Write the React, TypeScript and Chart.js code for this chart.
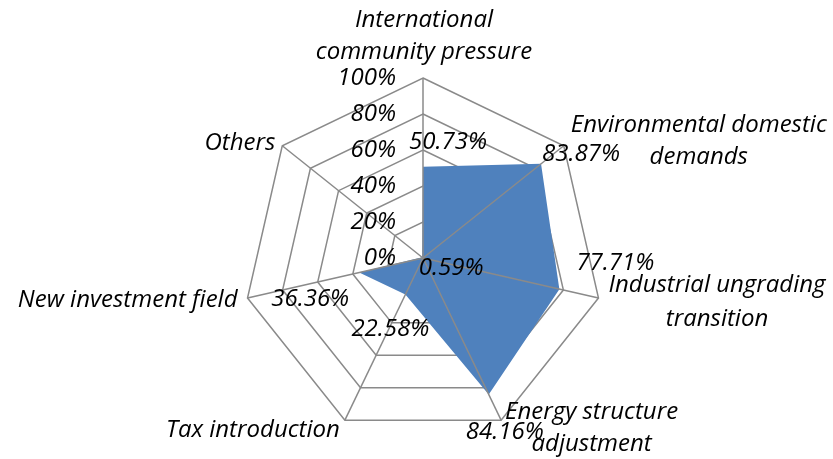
import { useEffect, useRef } from "react";
import { Chart, registerables } from "chart.js";

Chart.register(...registerables);

// Axis names (one entry per line of the label)
const categories: string[][] = [
  ["International", "community pressure"],
  ["Environmental domestic", "demands"],
  ["Industrial ungrading", "transition"],
  ["Energy structure", "adjustment"],
  ["Tax introduction"],
  ["New investment field"],
  ["Others"],
];

// Share of respondents per motivation (%)
const shares = [50.73, 83.87, 77.71, 84.16, 22.58, 36.36, 0.59];

// Radial tick values and their labels
const tickValues = [0, 20, 40, 60, 80, 100];
const tickLabels = ["0%", "20%", "40%", "60%", "80%", "100%"];

const FONT_FAMILY = "'Open Sans', Lato, sans-serif";
const NAME_FONT_SIZE = 24;
const NUMBER_FONT_SIZE = 24;
const GRID_COLOR = "#8a8a8a";
const FILL_COLOR = "#4f81bd";

// Placement of the axis names relative to the outer vertex:
// align = which edge of the block sits at dx, lineYs = line centres
const axisLabelPlacement: { align: "left" | "right" | "center"; dx: number; lineYs: number[] }[] = [
  { align: "center", dx: 1, lineYs: [-58, -26] },
  { align: "left", dx: 7, lineYs: [-21, 11] },
  { align: "left", dx: 10, lineYs: [-13, 21] },
  { align: "left", dx: 4, lineYs: [-8, 24] },
  { align: "right", dx: -5, lineYs: [10] },
  { align: "right", dx: -10, lineYs: [2] },
  { align: "right", dx: -7, lineYs: [-3] },
];

// Offset of each value label's centre from its data point
const valueLabelOffset: [number, number][] = [
  [25, -25],
  [40, -10],
  [56, -26],
  [16, 38],
  [-15, 35],
  [-49, 27],
  [29, 11],
];

const overlayPlugin = {
  id: "radarOverlay",
  afterDatasetsDraw(chart: any) {
    const scale = chart.scales.r;
    const ctx: CanvasRenderingContext2D = chart.ctx;
    const n = categories.length;
    const R = scale.drawingArea;

    ctx.save();
    // spokes drawn over the filled area
    ctx.strokeStyle = GRID_COLOR;
    ctx.lineWidth = 1.5;
    for (let i = 0; i < n; i++) {
      const p = scale.getPointPosition(i, R);
      ctx.beginPath();
      ctx.moveTo(scale.xCenter, scale.yCenter);
      ctx.lineTo(p.x, p.y);
      ctx.stroke();
    }

    ctx.fillStyle = "#000";
    ctx.textBaseline = "middle";

    // radial tick labels, right-aligned left of the top spoke
    ctx.font = `italic ${NUMBER_FONT_SIZE}px ${FONT_FAMILY}`;
    ctx.textAlign = "right";
    tickValues.forEach((v, k) => {
      const d = scale.getDistanceFromCenterForValue(v);
      ctx.fillText(tickLabels[k], scale.xCenter - 27, scale.yCenter - d);
    });

    // axis names
    ctx.font = `italic ${NAME_FONT_SIZE}px ${FONT_FAMILY}`;
    ctx.textAlign = "center";
    categories.forEach((lines, i) => {
      const v = scale.getPointPosition(i, R);
      const pl = axisLabelPlacement[i];
      const w = Math.max(...lines.map((l) => ctx.measureText(l).width));
      let cx = v.x + pl.dx;
      if (pl.align === "left") cx += w / 2;
      if (pl.align === "right") cx -= w / 2;
      lines.forEach((l, j) => ctx.fillText(l, cx, v.y + pl.lineYs[j]));
    });

    // value labels
    ctx.font = `italic ${NUMBER_FONT_SIZE}px ${FONT_FAMILY}`;
    const meta = chart.getDatasetMeta(0);
    meta.data.forEach((pt: any, i: number) => {
      const [dx, dy] = valueLabelOffset[i];
      ctx.fillText(shares[i].toFixed(2) + "%", pt.x + dx, pt.y + dy);
    });
    ctx.restore();
  },
};

export default function App() {
  const canvasRef = useRef<HTMLCanvasElement | null>(null);

  useEffect(() => {
    if (!canvasRef.current) return;
    const chart = new Chart(canvasRef.current, {
      type: "radar",
      data: {
        labels: categories.map((c) => c.join(" ")),
        datasets: [
          {
            data: shares,
            backgroundColor: FILL_COLOR,
            borderWidth: 0,
            pointRadius: 0,
            fill: true,
          },
        ],
      },
      options: {
        responsive: true,
        maintainAspectRatio: false,
        animation: false,
        layout: { padding: { top: 78, bottom: 21, left: 243, right: 230 } },
        plugins: {
          legend: { display: false },
          tooltip: { enabled: false },
        },
        scales: {
          r: {
            min: 0,
            max: 100,
            ticks: { display: false, stepSize: 20 },
            pointLabels: { display: false },
            angleLines: { display: false },
            grid: { color: GRID_COLOR, lineWidth: 1.5 },
          },
        },
      },
      plugins: [overlayPlugin],
    });
    return () => chart.destroy();
  }, []);

  return (
    <div style={{ position: "fixed", left: 0, top: 0, width: 833, height: 459, background: "#fff" }}>
      <canvas ref={canvasRef} />
    </div>
  );
}
